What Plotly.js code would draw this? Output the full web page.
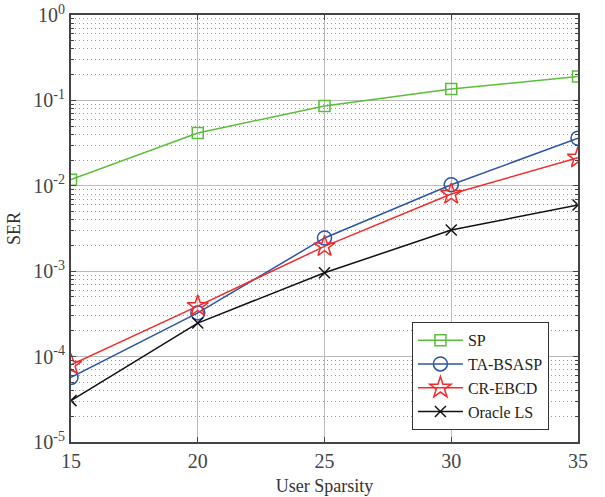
<!DOCTYPE html>
<html><head><meta charset="utf-8">
<script src="https://cdn.plot.ly/plotly-3.0.1.min.js"></script>
<style>body{margin:0;background:#fff}#g{width:605px;height:497px}</style>
</head><body><div id="g"></div>
<script>
const sparsity = [15, 20, 25, 30, 35];
const serSP = [0.0118, 0.0415, 0.086, 0.136, 0.19];
const serTA = [5.7e-5, 3.25e-4, 2.45e-3, 0.0103, 0.036];
const serCR = [8.0e-5, 3.9e-4, 1.95e-3, 8.0e-3, 0.0213];
const serOracle = [3.05e-5, 2.47e-4, 9.6e-4, 3.03e-3, 5.96e-3];
const names = ['SP', 'TA-BSASP', 'CR-EBCD', 'Oracle LS'];
const yTickVals = [1e-5, 1e-4, 1e-3, 1e-2, 1e-1, 1];
const yTickText = ['10<sup>-5</sup>','10<sup>-4</sup>','10<sup>-3</sup>','10<sup>-2</sup>','10<sup>-1</sup>','10<sup>0</sup>'];

const minorVals = [];
for (let e = -5; e < 0; e++) for (let m = 2; m <= 9; m++) minorVals.push(m * Math.pow(10, e));

const font = 'Liberation Serif, Times New Roman, serif';
function tr(y, name, color, sym, size) {
  return {x: sparsity, y: y, name: name, type: 'scatter', mode: 'lines+markers',
    line: {color: color, width: 1.5},
    marker: {symbol: sym, size: size, color: color, line: {color: color, width: 1.5}}};
}
const data = [
  tr(serSP, names[0], '#5BBE3A', 'square-open', 11),
  tr(serTA, names[1], '#2B55A6', 'circle-open', 14),
  tr(serCR, names[2], '#F42A2A', 'star-open', 16),
  tr(serOracle, names[3], '#111111', 'x-thin-open', 11)
];
const layout = {
  width: 605, height: 497,
  margin: {l: 71, r: 27, t: 15, b: 55},
  paper_bgcolor: '#fff', plot_bgcolor: '#fff',
  font: {family: font, color: '#333', size: 19},
  showlegend: true,
  legend: {x: 0.672, y: 0.028, xanchor: 'left', yanchor: 'bottom',
    bgcolor: '#fff', bordercolor: '#333', borderwidth: 1.2,
    font: {family: font, size: 16, color: '#222'}, tracegroupgap: 0, itemwidth: 45,
    entrywidth: 150},
  xaxis: {range: [15, 35], tickvals: [15, 20, 25, 30, 35], ticks: 'inside', ticklen: 5,
    tickcolor: '#444', showline: true, linecolor: '#444', linewidth: 2, mirror: 'ticks',
    showgrid: true, gridcolor: '#bbbbbb', gridwidth: 1, zeroline: false,
    tickfont: {family: font, size: 20, color: '#444'},
    title: {text: 'User Sparsity', font: {family: font, size: 18, color: '#333'}, standoff: 8}},
  yaxis: {type: 'log', range: [-5, 0], tickvals: yTickVals, ticktext: yTickText,
    ticks: 'inside', ticklen: 5, tickcolor: '#444', showline: true, linecolor: '#444',
    linewidth: 2, mirror: 'ticks', showgrid: true, gridcolor: '#bbbbbb', gridwidth: 1,
    zeroline: false, tickfont: {family: font, size: 20, color: '#444'},
    minor: {tickvals: minorVals, ticks: 'inside', ticklen: 3, tickcolor: '#444',
      showgrid: true, gridcolor: '#999999', griddash: '1px,3px', gridwidth: 1},
    title: {text: 'SER', font: {family: font, size: 18, color: '#333'}, standoff: 8}}
};
Plotly.newPlot('g', data, layout, {staticPlot: true, displayModeBar: false});
</script></body></html>
